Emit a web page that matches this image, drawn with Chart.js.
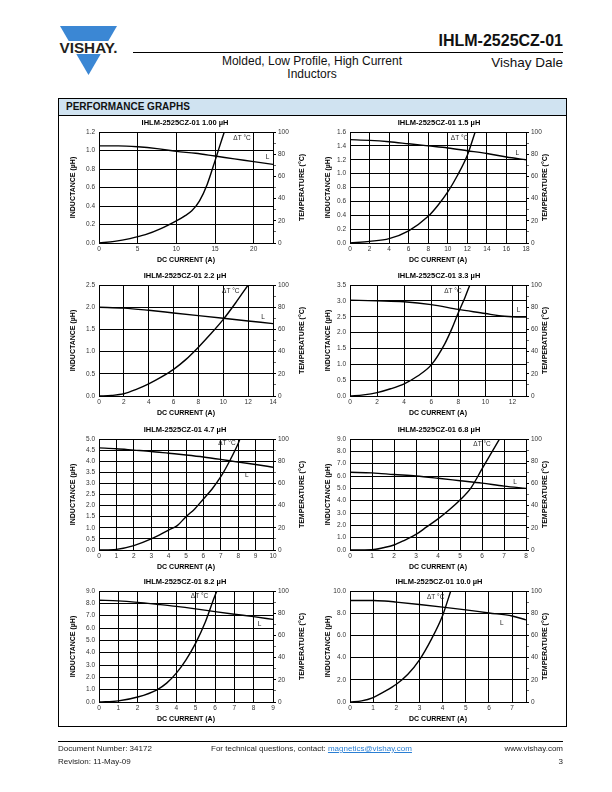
<!DOCTYPE html>
<html>
<head>
<meta charset="utf-8">
<title>IHLM-2525CZ-01 Performance Graphs</title>
<script src="https://cdn.jsdelivr.net/npm/chart.js"></script>
<style>
  html, body { margin: 0; padding: 0; background: #fff; font-family: 'Liberation Sans', Arial, sans-serif; color: #111; }
  .page { position: relative; width: 612px; height: 792px; overflow: hidden; }
  .abs { position: absolute; }
  .part { right: 49px; top: 33px; font-size: 16px; font-weight: bold; line-height: 16px; }
  .rule { left: 133px; top: 52px; width: 430px; height: 1px; background: #000; }
  .sub { left: 212px; width: 200px; top: 55px; font-size: 12px; line-height: 13px; text-align: center; }
  .dale { right: 49px; top: 56px; font-size: 13.5px; line-height: 14px; }
  .box { left: 58px; top: 98px; width: 507px; height: 627px; border: 1px solid #000; }
  .bar { height: 16px; background: #d0e3f1; border-bottom: 1px solid #000; font-size: 10px; font-weight: bold; line-height: 16px; padding-left: 7px; }
  canvas { position: absolute; }
  .foot-rule { left: 58px; top: 741px; width: 505px; height: 1px; background: #000; }
  .foot { font-size: 8px; line-height: 10px; color: #222; }
  .foot a { color: #2a7fd4; }
</style>
</head>
<body>
<div class="page">
  <svg class="abs" style="left:58px;top:26px" width="62" height="50">
    <polygon points="2,0 59,0 30.5,49" fill="#3b87d4"/>
    <rect x="0" y="15" width="62" height="13" fill="#fff"/>
    <text x="30.5" y="26.5" text-anchor="middle" font-family="Liberation Sans, Arial" font-weight="bold" font-size="14" textLength="58" lengthAdjust="spacingAndGlyphs" fill="#231f20">VISHAY.</text>
  </svg>
  <div class="abs part">IHLM-2525CZ-01</div>
  <div class="abs rule"></div>
  <div class="abs sub">Molded, Low Profile, High Current<br>Inductors</div>
  <div class="abs dale">Vishay Dale</div>

  <div class="abs box"><div class="bar">PERFORMANCE GRAPHS</div></div>

  <canvas id="c0" width="254" height="159" style="left:58px;top:114px"></canvas>
  <canvas id="c1" width="254" height="159" style="left:312px;top:114px"></canvas>
  <canvas id="c2" width="254" height="159" style="left:58px;top:267px"></canvas>
  <canvas id="c3" width="254" height="159" style="left:312px;top:267px"></canvas>
  <canvas id="c4" width="254" height="159" style="left:58px;top:421px"></canvas>
  <canvas id="c5" width="254" height="159" style="left:312px;top:421px"></canvas>
  <canvas id="c6" width="254" height="159" style="left:58px;top:573px"></canvas>
  <canvas id="c7" width="254" height="159" style="left:312px;top:573px"></canvas>

  <div class="abs foot-rule"></div>
  <div class="abs foot" style="left:58px;top:744px">Document Number: 34172</div>
  <div class="abs foot" style="left:58px;top:757px">Revision: 11-May-09</div>
  <div class="abs foot" style="left:211px;top:744px">For technical questions, contact: <a href="#">magnetics@vishay.com</a></div>
  <div class="abs foot" style="right:49px;top:744px">www.vishay.com</div>
  <div class="abs foot" style="right:49px;top:757px">3</div>
</div>

<script>
// chart titles
const chartTitles = [
  'IHLM-2525CZ-01 1.00 µH', 'IHLM-2525CZ-01 1.5 µH', 'IHLM-2525CZ-01 2.2 µH', 'IHLM-2525CZ-01 3.3 µH',
  'IHLM-2525CZ-01 4.7 µH', 'IHLM-2525CZ-01 6.8 µH', 'IHLM-2525CZ-01 8.2 µH', 'IHLM-2525CZ-01 10.0 µH'
];

// axis ranges (DC current A, inductance µH)
const xMaxes = [22.5, 18, 14, 13, 10, 8, 9, 7.6];
const xSteps = [5, 2, 2, 2, 1, 1, 1, 1];
const lMaxes = [1.2, 1.6, 2.5, 3.5, 5.0, 9.0, 9.0, 10.0];
const lSteps = [0.2, 0.2, 0.5, 0.5, 0.5, 1.0, 1.0, 2.0];

// inductance curves: current (A) / L (µH)
const iL1 = [0, 2.5, 5, 7.5, 10, 12.5, 15, 17.5, 20, 22.5];
const L1  = [1.05, 1.05, 1.04, 1.02, 0.99, 0.97, 0.94, 0.91, 0.88, 0.85];
const iL2 = [0, 2, 4, 6, 8, 10, 12, 14, 16, 18];
const L2  = [1.49, 1.48, 1.46, 1.43, 1.40, 1.37, 1.33, 1.29, 1.24, 1.20];
const iL3 = [0, 2, 4, 6, 8, 10, 12, 14];
const L3  = [2.0, 1.98, 1.93, 1.87, 1.81, 1.75, 1.69, 1.63];
const iL4 = [0, 2, 4, 6, 8, 10, 11, 12, 13];
const L4  = [3.02, 3.0, 2.97, 2.88, 2.73, 2.6, 2.53, 2.5, 2.49];
const iL5 = [0, 1, 2, 3, 4, 5, 6, 7, 8, 9, 10];
const L5  = [4.6, 4.56, 4.5, 4.44, 4.36, 4.28, 4.19, 4.08, 3.96, 3.85, 3.73];
const iL6 = [0, 1, 2, 3, 4, 5, 6, 7, 8];
const L6  = [6.3, 6.25, 6.12, 6.0, 5.82, 5.62, 5.42, 5.18, 5.0];
const iL7 = [0, 1, 2, 3, 4, 5, 6, 7, 8, 9];
const L7  = [8.25, 8.2, 8.08, 7.92, 7.75, 7.55, 7.33, 7.12, 6.92, 6.7];
const iL8 = [0, 1, 1.5, 2, 3, 4, 5, 6, 7, 7.6];
const L8  = [9.15, 9.15, 9.1, 9.0, 8.78, 8.55, 8.3, 8.02, 7.75, 7.4];

// temperature rise curves: current (A) / ΔT (°C)
const iT1 = [0, 2, 4, 6, 8, 10, 11, 12, 13, 14, 15, 15.5, 16.2];
const T1  = [0, 1.5, 4, 7.5, 13, 20, 24, 29, 38, 53, 74, 85, 100];
const iT2 = [0, 2, 4, 6, 8, 9, 10, 11, 12, 12.8];
const T2  = [0, 1.5, 4, 11, 24, 34, 46, 61, 79, 100];
const iT3 = [0, 1, 2, 3, 4, 5, 6, 7, 8, 9, 10, 11, 12];
const T3  = [0, 0.5, 2, 6, 11, 17, 24, 33, 44, 56, 69, 84, 100];
const iT4 = [0, 1, 2, 3, 4, 5, 6, 7, 7.5, 8, 8.5, 8.85];
const T4  = [0, 1, 3, 6.5, 11, 18, 28, 47, 60, 75, 89, 100];
const iT5 = [0, 1, 2, 3, 4, 4.5, 5, 5.5, 6, 6.5, 7, 7.5, 8, 8.1];
const T5  = [0, 0.6, 4, 10, 18, 22, 30, 37, 46, 55, 66, 80, 96, 100];
const iT6 = [0, 1, 1.5, 2, 2.5, 3, 3.5, 4, 4.5, 5, 5.5, 6, 6.5, 6.8];
const T6  = [0, 0.3, 2, 4.5, 9, 14, 21, 28, 36, 45, 56, 73, 90, 100];
const iT7 = [0, 1, 2, 3, 3.5, 4, 4.5, 5, 5.5, 6, 6.1];
const T7  = [0, 1, 4.5, 11, 17, 26, 38, 53, 72, 96, 100];
const iT8 = [0, 0.5, 1, 1.5, 2, 2.5, 3, 3.5, 4, 4.35];
const T8  = [0, 1, 4, 9.5, 16, 25, 38, 56, 78, 100];

// where the "ΔT °C" and "L" labels sit (current, value)
const dtLabelAt = [[18.5, 94], [11.2, 94], [10.6, 94], [7.6, 94], [7.35, 96], [6.0, 95], [5.2, 95], [3.7, 94]];
const lLabelAt  = [[21.8, 0.93], [17.1, 1.30], [13.2, 1.77], [12.45, 2.69], [8.5, 3.38], [7.5, 5.52], [8.3, 6.3], [6.55, 7.1]];

const lCurves = [[iL1, L1], [iL2, L2], [iL3, L3], [iL4, L4], [iL5, L5], [iL6, L6], [iL7, L7], [iL8, L8]];
const tCurves = [[iT1, T1], [iT2, T2], [iT3, T3], [iT4, T4], [iT5, T5], [iT6, T6], [iT7, T7], [iT8, T8]];

Chart.defaults.font.family = "'Liberation Sans', Arial, sans-serif";
Chart.defaults.color = '#333';

const pts = (xs, ys) => xs.map((x, i) => ({ x: x, y: ys[i] }));

// curve labels + right axis title (reads bottom to top like the left one)
const extras = {
  id: 'extras',
  afterDatasetsDraw(chart, args, opts) {
    const { ctx, scales, chartArea } = chart;
    ctx.save();
    ctx.fillStyle = '#222';
    ctx.font = "6.5px 'Liberation Sans', Arial, sans-serif";
    ctx.textAlign = 'center';
    ctx.textBaseline = 'middle';
    ctx.fillText('ΔT °C', scales.x.getPixelForValue(opts.dt[0]), scales.y2.getPixelForValue(opts.dt[1]));
    ctx.fillText('L', scales.x.getPixelForValue(opts.l[0]), scales.y.getPixelForValue(opts.l[1]));
    ctx.translate(scales.y2.right - opts.titleOff, (chartArea.top + chartArea.bottom) / 2);
    ctx.rotate(-Math.PI / 2);
    ctx.fillStyle = '#000';
    ctx.font = "bold 7px 'Liberation Sans', Arial, sans-serif";
    ctx.fillText('TEMPERATURE (°C)', 0, 0);
    ctx.restore();
  }
};

function drawPerf(n) {
  const leftCol = n % 2 === 0;
  const leftW = leftCol ? 41 : 38;
  const rightW = leftCol ? 39 : 40;
  const curveStyle = { borderColor: '#000', borderWidth: 1.4, pointRadius: 0, fill: false, cubicInterpolationMode: 'monotone' };

  new Chart(document.getElementById('c' + n), {
    type: 'line',
    data: {
      datasets: [
        Object.assign({ label: 'L', data: pts(lCurves[n][0], lCurves[n][1]), yAxisID: 'y' }, curveStyle),
        Object.assign({ label: 'ΔT', data: pts(tCurves[n][0], tCurves[n][1]), yAxisID: 'y2' }, curveStyle)
      ]
    },
    options: {
      responsive: false,
      animation: false,
      layout: { padding: 0 },
      plugins: {
        legend: { display: false },
        tooltip: { enabled: false },
        title: {
          display: true, text: chartTitles[n], color: '#000',
          font: { size: 7.5, weight: 'bold' }, padding: { top: 4.5, bottom: 4.5 }
        },
        extras: { dt: dtLabelAt[n], l: lLabelAt[n], titleOff: leftCol ? 10 : 21 }
      },
      scales: {
        x: {
          type: 'linear', min: 0, max: xMaxes[n],
          ticks: { stepSize: xSteps[n], includeBounds: false, autoSkip: false, maxRotation: 0, padding: 2, font: { size: 6.5 } },
          grid: { color: '#000', lineWidth: 1, drawTicks: false },
          border: { color: '#000', width: 1 },
          title: { display: true, text: 'DC CURRENT (A)', color: '#000', font: { size: 7, weight: 'bold' }, padding: { top: 0, bottom: 9 } },
          afterFit: s => { s.height = 30; }
        },
        y: {
          position: 'left', min: 0, max: lMaxes[n],
          ticks: { stepSize: lSteps[n], padding: 4, font: { size: 6.5 }, callback: v => v.toFixed(1) },
          grid: { color: '#000', lineWidth: 1, drawTicks: false },
          border: { color: '#000', width: 1 },
          title: { display: true, text: 'INDUCTANCE (µH)', color: '#000', font: { size: 7, weight: 'bold' }, padding: { top: leftCol ? 11 : 12, bottom: 0 } },
          afterFit: s => { s.width = leftW; }
        },
        y2: {
          position: 'right', min: 0, max: 100,
          ticks: { stepSize: 10, padding: 2, font: { size: 6.5 }, callback: v => (v % 20 === 0 ? v : '') },
          grid: { drawOnChartArea: false, tickLength: 3, tickColor: '#000', tickWidth: c => (c.tick && c.tick.value % 20 === 0 ? 1 : 0.6) },
          border: { color: '#000', width: 1 },
          afterFit: s => { s.width = rightW; }
        }
      }
    },
    plugins: [extras]
  });
}

for (let n = 0; n < 8; n++) drawPerf(n);
</script>
</body>
</html>
